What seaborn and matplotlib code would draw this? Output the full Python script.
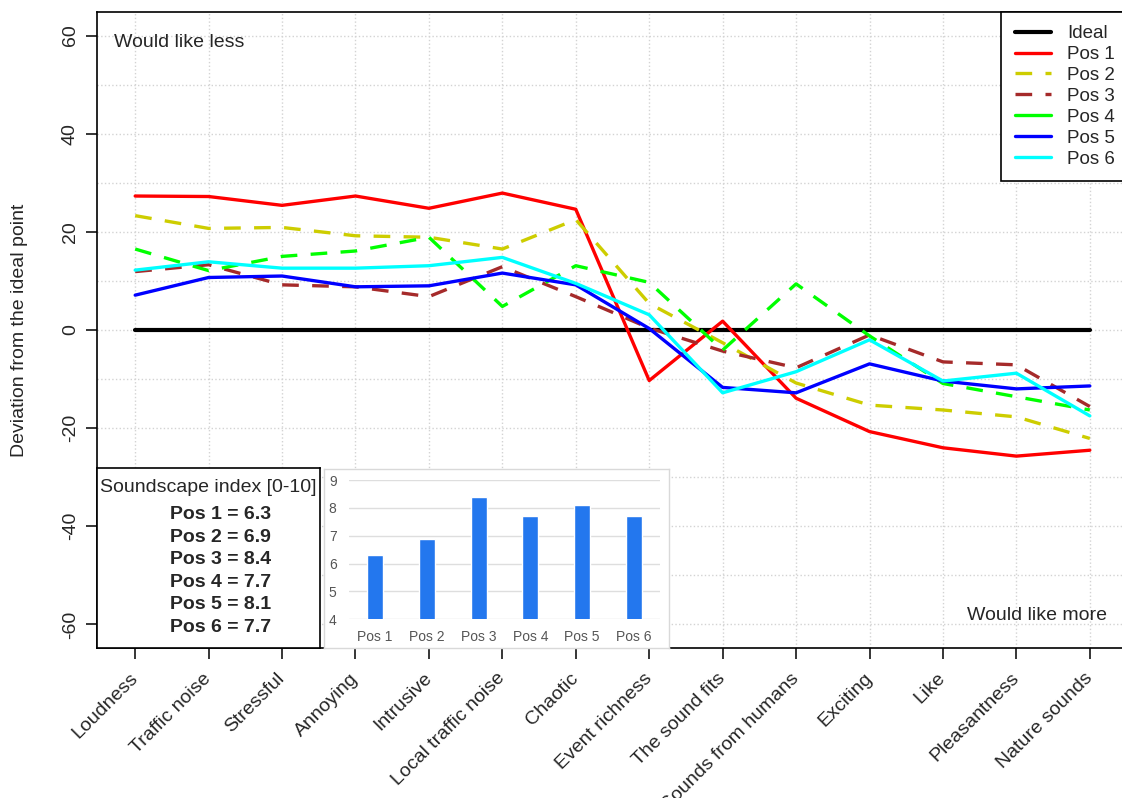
import matplotlib
matplotlib.use('Agg')

import pandas as pd
import seaborn as sns
import matplotlib.pyplot as plt
from matplotlib.colors import to_hex
from matplotlib.lines import Line2D


categories = ['Loudness', 'Traffic noise', 'Stressful', 'Annoying', 'Intrusive',
              'Local traffic noise', 'Chaotic', 'Event richness', 'The sound fits',
              'Sounds from humans', 'Exciting', 'Like', 'Pleasantness', 'Nature sounds']

series_names = ['Ideal', 'Pos 1', 'Pos 2', 'Pos 3', 'Pos 4', 'Pos 5', 'Pos 6']

ideal = [0, 0, 0, 0, 0, 0, 0, 0, 0, 0, 0, 0, 0, 0]
pos1 = [27.3, 27.2, 25.4, 27.3, 24.8, 27.9, 24.6, -10.3, 1.8, -13.9, -20.7, -24.0, -25.7, -24.5]
pos2 = [23.3, 20.7, 20.9, 19.2, 18.9, 16.5, 22.5, 5.4, -2.6, -10.8, -15.3, -16.3, -17.7, -22.1]
pos3 = [11.9, 13.3, 9.2, 8.8, 6.8, 12.9, 6.8, 0.4, -4.3, -7.7, -1.0, -6.5, -7.1, -15.6]
pos4 = [16.5, 12.1, 15.0, 16.1, 18.9, 4.8, 13.1, 9.7, -4.1, 9.4, -1.2, -10.9, -13.6, -16.3]
pos5 = [7.1, 10.7, 11.0, 8.8, 9.0, 11.6, 9.2, 0.3, -11.7, -12.8, -6.9, -10.4, -12.0, -11.4]
pos6 = [12.2, 13.9, 12.6, 12.6, 13.1, 14.8, 9.5, 3.1, -12.8, -8.5, -2.0, -10.4, -8.8, -17.5]

index_labels = ['Pos 1', 'Pos 2', 'Pos 3', 'Pos 4', 'Pos 5', 'Pos 6']
index_values = [6.3, 6.9, 8.4, 7.7, 8.1, 7.7]

colors = {'Ideal': '#000000', 'Pos 1': '#ff0000', 'Pos 2': '#cdcd00',
          'Pos 3': '#a52a2a', 'Pos 4': '#00ff00', 'Pos 5': '#0000ff',
          'Pos 6': '#00ffff'}
dash = (5, 4)
dash_styles = {'Ideal': '', 'Pos 1': '', 'Pos 2': dash, 'Pos 3': dash,
               'Pos 4': dash, 'Pos 5': '', 'Pos 6': ''}

W, H = 1122, 798


def px_rect(left, top, right, bottom):
    # figure fraction rect from pixel box (origin top-left)
    return [left / W, 1 - bottom / H, (right - left) / W, (bottom - top) / H]


sns.set_style('white')
plt.rcParams['font.family'] = ['Liberation Sans', 'DejaVu Sans']
plt.rcParams['axes.unicode_minus'] = False

fig = plt.figure(figsize=(W / 100, H / 100), dpi=100)
ax = fig.add_axes(px_rect(97, 12, 1128, 648))

values = [ideal, pos1, pos2, pos3, pos4, pos5, pos6]
df = pd.DataFrame({
    'pos': list(range(len(categories))) * len(series_names),
    'value': [v for s in values for v in s],
    'series': [n for n in series_names for _ in categories],
})

sns.lineplot(data=df, x='pos', y='value', hue='series', style='series',
             hue_order=series_names, style_order=series_names,
             palette=colors, dashes=dash_styles, sort=False,
             linewidth=2.4, legend=False, ax=ax)
for line in ax.lines:
    if to_hex(line.get_color()) == '#000000':
        line.set_linewidth(3.0)

ax.set_xlim(-0.52, 13.52)
ax.set_ylim(-64.8, 64.8)
ax.set_yticks(range(-60, 61, 20))
ax.set_yticks(range(-60, 61, 10), minor=True)
ax.set_xticks(range(len(categories)))
ax.set_xticklabels(categories, rotation=45, ha='right', va='center',
                   rotation_mode='anchor')
ax.set_axisbelow(True)
ax.grid(which='both', axis='y', ls=':', color='#d3d3d3', lw=1)
ax.grid(which='major', axis='x', ls=':', color='#d3d3d3', lw=1)
ax.tick_params(which='major', direction='out', length=8, width=1.1,
               color='black', labelsize=14, left=True, bottom=True)
ax.tick_params(axis='x', pad=12)
ax.tick_params(which='minor', length=0)
ax.tick_params(axis='y', labelrotation=90, pad=5)
for lab in ax.get_yticklabels():
    lab.set_va('center')
for sp in ax.spines.values():
    sp.set_color('black')
    sp.set_linewidth(1.2)

ax.set_xlabel('')
ax.set_ylabel('Deviation from the ideal point', fontsize=14)
ax.yaxis.set_label_coords(-0.067, 0.5)

ax.text(-0.29, 58.5, 'Would like less', ha='left', va='center', fontsize=14)
ax.text(13.23, -58.1, 'Would like more', ha='right', va='center', fontsize=14)

handles = []
for name in series_names:
    lw = 3.0 if name == 'Ideal' else 2.4
    if name in ('Pos 2', 'Pos 3'):
        h = Line2D([], [], color=colors[name], lw=lw, dashes=(5, 4))
    else:
        h = Line2D([], [], color=colors[name], lw=lw)
    handles.append(h)
leg = ax.legend(handles, series_names, loc='upper right', frameon=True,
                fancybox=False, edgecolor='black', framealpha=1,
                borderaxespad=0, fontsize=13.5, handlelength=1.95,
                handletextpad=0.85, labelspacing=0.2, borderpad=0.7)
leg.get_frame().set_linewidth(1.2)

# soundscape index text box
box = fig.add_axes(px_rect(97, 468, 320, 648))
box.set_xticks([])
box.set_yticks([])
box.set_facecolor('white')
for sp in box.spines.values():
    sp.set_color('black')
    sp.set_linewidth(1.2)
box.text(0.5, 0.894, 'Soundscape index [0-10]', ha='center', va='center',
         fontsize=14, transform=box.transAxes)
for i, (lab, val) in enumerate(zip(index_labels, index_values)):
    box.text(0.327, 0.739 - i * 0.125, f'{lab} = {val}', ha='left',
             va='center', fontsize=14, fontweight='bold',
             transform=box.transAxes)

# inset bar chart
panel = fig.add_axes(px_rect(324, 469, 669, 648))
panel.set_xticks([])
panel.set_yticks([])
panel.set_facecolor('white')
for sp in panel.spines.values():
    sp.set_color('#d9d9d9')
    sp.set_linewidth(1)

bar_ax = fig.add_axes(px_rect(349, 480, 660, 619.3))
sns.barplot(x=index_labels, y=index_values, color='#2377ee', saturation=1,
            width=0.31, ax=bar_ax)
bar_ax.set_ylim(4, 9)
bar_ax.set_yticks(range(4, 10))
bar_ax.set_facecolor('white')
bar_ax.set_axisbelow(True)
bar_ax.grid(axis='y', color='#dedede', lw=1)
for sp in bar_ax.spines.values():
    sp.set_visible(False)
bar_ax.tick_params(length=0, labelsize=10, labelcolor='#555555')
bar_ax.tick_params(axis='x', pad=8)
bar_ax.tick_params(axis='y', pad=9)
bar_ax.set_xlabel('')
bar_ax.set_ylabel('')

fig.savefig('out.png', dpi=100)
